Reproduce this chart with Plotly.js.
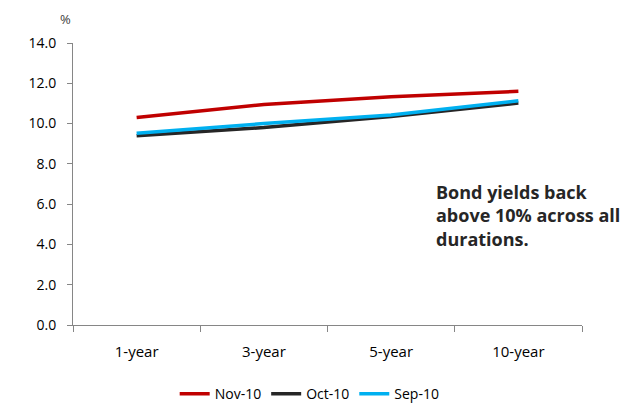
<!DOCTYPE html>
<html>
<head>
<meta charset="utf-8">
<script src="https://cdn.plot.ly/plotly-3.0.1.min.js"></script>
<style>html,body{margin:0;padding:0;background:#fff;}#chart{width:630px;height:403px;}</style>
</head>
<body>
<div id="chart"></div>
<script>
const categories = ["1-year", "3-year", "5-year", "10-year"];
const nov10 = [10.3, 10.95, 11.33, 11.6];
const oct10 = [9.4, 9.8, 10.35, 11.02];
const sep10 = [9.52, 10.0, 10.43, 11.13];
const seriesNames = ["Nov-10", "Oct-10", "Sep-10"];
const yTicks = [0, 2, 4, 6, 8, 10, 12, 14];

const font = "'Open Sans', sans-serif";
const colors = ["#C00000", "#262626", "#00B0F0"];
const data = [nov10, oct10, sep10].map((ys, i) => ({
  type: "scatter", mode: "lines", x: categories, y: ys, name: seriesNames[i],
  line: {color: colors[i], width: 3.5}
}));

const layout = {
  width: 630, height: 403,
  margin: {l: 73, r: 48, t: 43, b: 78, autoexpand: false},
  paper_bgcolor: "#fff", plot_bgcolor: "#fff",
  font: {family: font, size: 14, color: "#000"},
  showlegend: true,
  legend: {orientation: "h", x: 0.465, xanchor: "center", y: -0.245, yanchor: "middle",
           font: {family: font, size: 14, color: "#000"}, itemwidth: 30, tracegroupgap: 0},
  xaxis: {type: "category", showline: true, linecolor: "#868686", linewidth: 1,
          ticks: "outside", tickson: "boundaries", ticklen: 6, tickcolor: "#868686",
          showgrid: false, zeroline: false, tickfont: {size: 15}, range: [-0.5, 3.5],
          ticklabelstandoff: 13},
  yaxis: {range: [0, 14], tickvals: yTicks, tickformat: ".1f", showline: true,
          linecolor: "#868686", linewidth: 1, ticks: "outside", ticklen: 5, tickcolor: "#868686",
          showgrid: false, zeroline: false, tickfont: {size: 14}, ticklabelstandoff: 8},
  annotations: [
    {text: "%", xref: "paper", yref: "paper", x: -0.015, y: 1.085, showarrow: false,
     xanchor: "center", yanchor: "middle", font: {size: 13, color: "#404040"}},
    {text: "Bond yields back<br>above 10% across all<br>durations.", xref: "paper", yref: "paper",
     x: 0.71, y: 0.52, xanchor: "left", yanchor: "top", align: "left", showarrow: false,
     font: {size: 18, color: "#262626", family: font, weight: "bold"}}
  ]
};
Plotly.newPlot("chart", data, layout, {displayModeBar: false, staticPlot: true});
</script>
</body>
</html>
